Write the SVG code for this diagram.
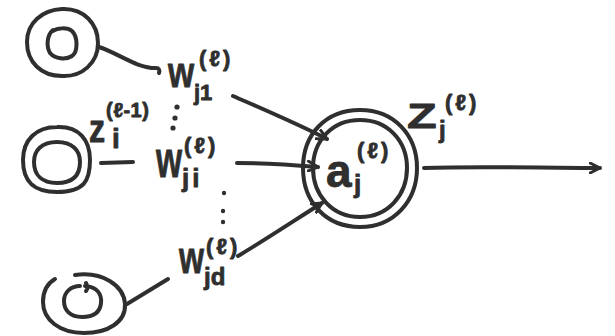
<svg xmlns="http://www.w3.org/2000/svg" width="615" height="336" viewBox="0 0 615 336">
  <defs>
    <style>
      .ink { fill: none; stroke: #2f2f2f; stroke-width: 4; stroke-linecap: round; stroke-linejoin: round; }
      .txt { fill: #2f2f2f; stroke: #2f2f2f; stroke-width: 0.8; stroke-linejoin: round; font-family: "Liberation Sans", "DejaVu Sans", sans-serif; font-weight: bold; }
      .sup { font-size: 22px; letter-spacing: 3px; }
      .dot { fill: #2f2f2f; }
    </style>
    <marker id="chev" viewBox="0 0 12 12" refX="11" refY="6" markerWidth="12" markerHeight="12" markerUnits="userSpaceOnUse" orient="auto">
      <path d="M1,1 L11,6 L1,11" fill="none" stroke="#2f2f2f" stroke-width="3" stroke-linecap="round" stroke-linejoin="round"/>
    </marker>
  </defs>
  <rect width="615" height="336" fill="#ffffff"/>

  <!-- input neuron 1 -->
  <g id="node-in-1">
    <path class="ink" d="M62,9 C84,8 98,24 98,43 C98,63 82,77 62,76 C41,76 27,62 27,42 C27,23 42,10 62,9 Z"/>
    <path class="ink" d="M53,31 C57,28 67,27 72,31 C78,37 78,52 72,56 C66,60 55,59 50,53 C46,46 47,35 53,30"/>
  </g>

  <!-- input neuron i -->
  <g id="node-in-i">
    <path class="ink" d="M57,127 C79,126 90,140 90,160 C90,181 84,192 57,192 C33,192 23,181 23,160 C23,140 36,127 57,127 Z"/>
    <path class="ink" d="M57,142 C72,142 80,150 80,162 C80,176 72,183 57,183 C42,183 34,175 34,162 C34,150 42,142 57,142 Z"/>
  </g>

  <!-- input neuron d -->
  <g id="node-in-d">
    <path class="ink" d="M75,275 C103,271 124,286 125,304 C126,322 108,333 84,333 C60,333 43,320 43,302 C43,291 48,283 55,279"/>
    <path class="ink" d="M85,286 C98,287 102,295 101,303 C100,313 93,317 82,317 C70,317 64,310 64,301 C64,292 71,286 80,286 M86,283 C88,287 88,289 86,291"/>
  </g>

  <!-- neuron j -->
  <g id="node-j">
    <path class="ink" d="M360,110 C394,110 417,135 417,168 C417,201 394,227 360,227 C326,227 303,202 303,168 C303,134 326,110 360,110 Z"/>
    <path class="ink" d="M360,120 C388,120 407,141 407,168 C407,195 388,217 360,217 C332,217 313,195 313,168 C313,141 332,120 360,120 Z"/>
    <text class="txt" x="326" y="187" font-size="46">a</text>
    <text class="txt" x="354" y="193" font-size="26">j</text>
    <text class="txt sup" x="357" y="158">(ℓ)</text>
  </g>

  <!-- labels -->
  <g id="label-z-j">
    <text class="txt" transform="translate(407,128) scale(1.35,1)" font-size="36">Z</text>
    <text class="txt" x="439" y="138" font-size="24">j</text>
    <text class="txt sup" x="445" y="110">(ℓ)</text>
  </g>
  <g id="label-z-i">
    <text class="txt" transform="translate(89,142) scale(0.85,1)" font-size="38">z</text>
    <text class="txt" x="112" y="148" font-size="28">i</text>
    <text class="txt" x="106" y="117" font-size="20" letter-spacing="0.5">(ℓ-1)</text>
  </g>
  <g id="label-w-j1">
    <text class="txt" transform="translate(168,87) scale(0.8,1)" font-size="42">w</text>
    <text class="txt" x="194" y="100" font-size="22">j1</text>
    <text class="txt sup" x="199" y="66">(ℓ)</text>
  </g>
  <g id="label-w-ji">
    <text class="txt" transform="translate(156,177) scale(0.67,1)" font-size="50">w</text>
    <text class="txt" x="182" y="187" font-size="26" letter-spacing="3">ji</text>
    <text class="txt sup" x="184" y="153">(ℓ)</text>
  </g>
  <g id="label-w-jd">
    <text class="txt" transform="translate(179,273) scale(0.73,1)" font-size="44">w</text>
    <text class="txt" x="204" y="285" font-size="24">jd</text>
    <text class="txt sup" x="206" y="254">(ℓ)</text>
  </g>

  <!-- ellipsis dots between weights -->
  <g id="dots">
    <circle class="dot" cx="177" cy="107" r="2.6"/>
    <circle class="dot" cx="175" cy="118" r="2.6"/>
    <circle class="dot" cx="173" cy="128" r="2.6"/>
    <circle class="dot" cx="224" cy="193" r="2.2"/>
    <circle class="dot" cx="223" cy="211" r="2.2"/>
    <circle class="dot" cx="223" cy="222" r="2.2"/>
  </g>

  <!-- connectors -->
  <g id="connectors">
    <path class="ink" d="M99,47 C120,54 136,68 156,68 C159,68 160,70 159,73"/>
    <path class="ink" d="M233,96 C265,110 298,124 327,139" marker-end="url(#chev)"/>
    <path class="ink" d="M101,163 L133,162"/>
    <path class="ink" d="M237,163 C265,163 294,165 318,167" marker-end="url(#chev)"/>
    <path class="ink" d="M127,304 L168,279"/>
    <path class="ink" d="M238,256 C265,240 295,220 322,203" marker-end="url(#chev)"/>
    <path class="ink" d="M424,168 C480,166 540,168 600,168" marker-end="url(#chev)"/>
  </g>
</svg>
